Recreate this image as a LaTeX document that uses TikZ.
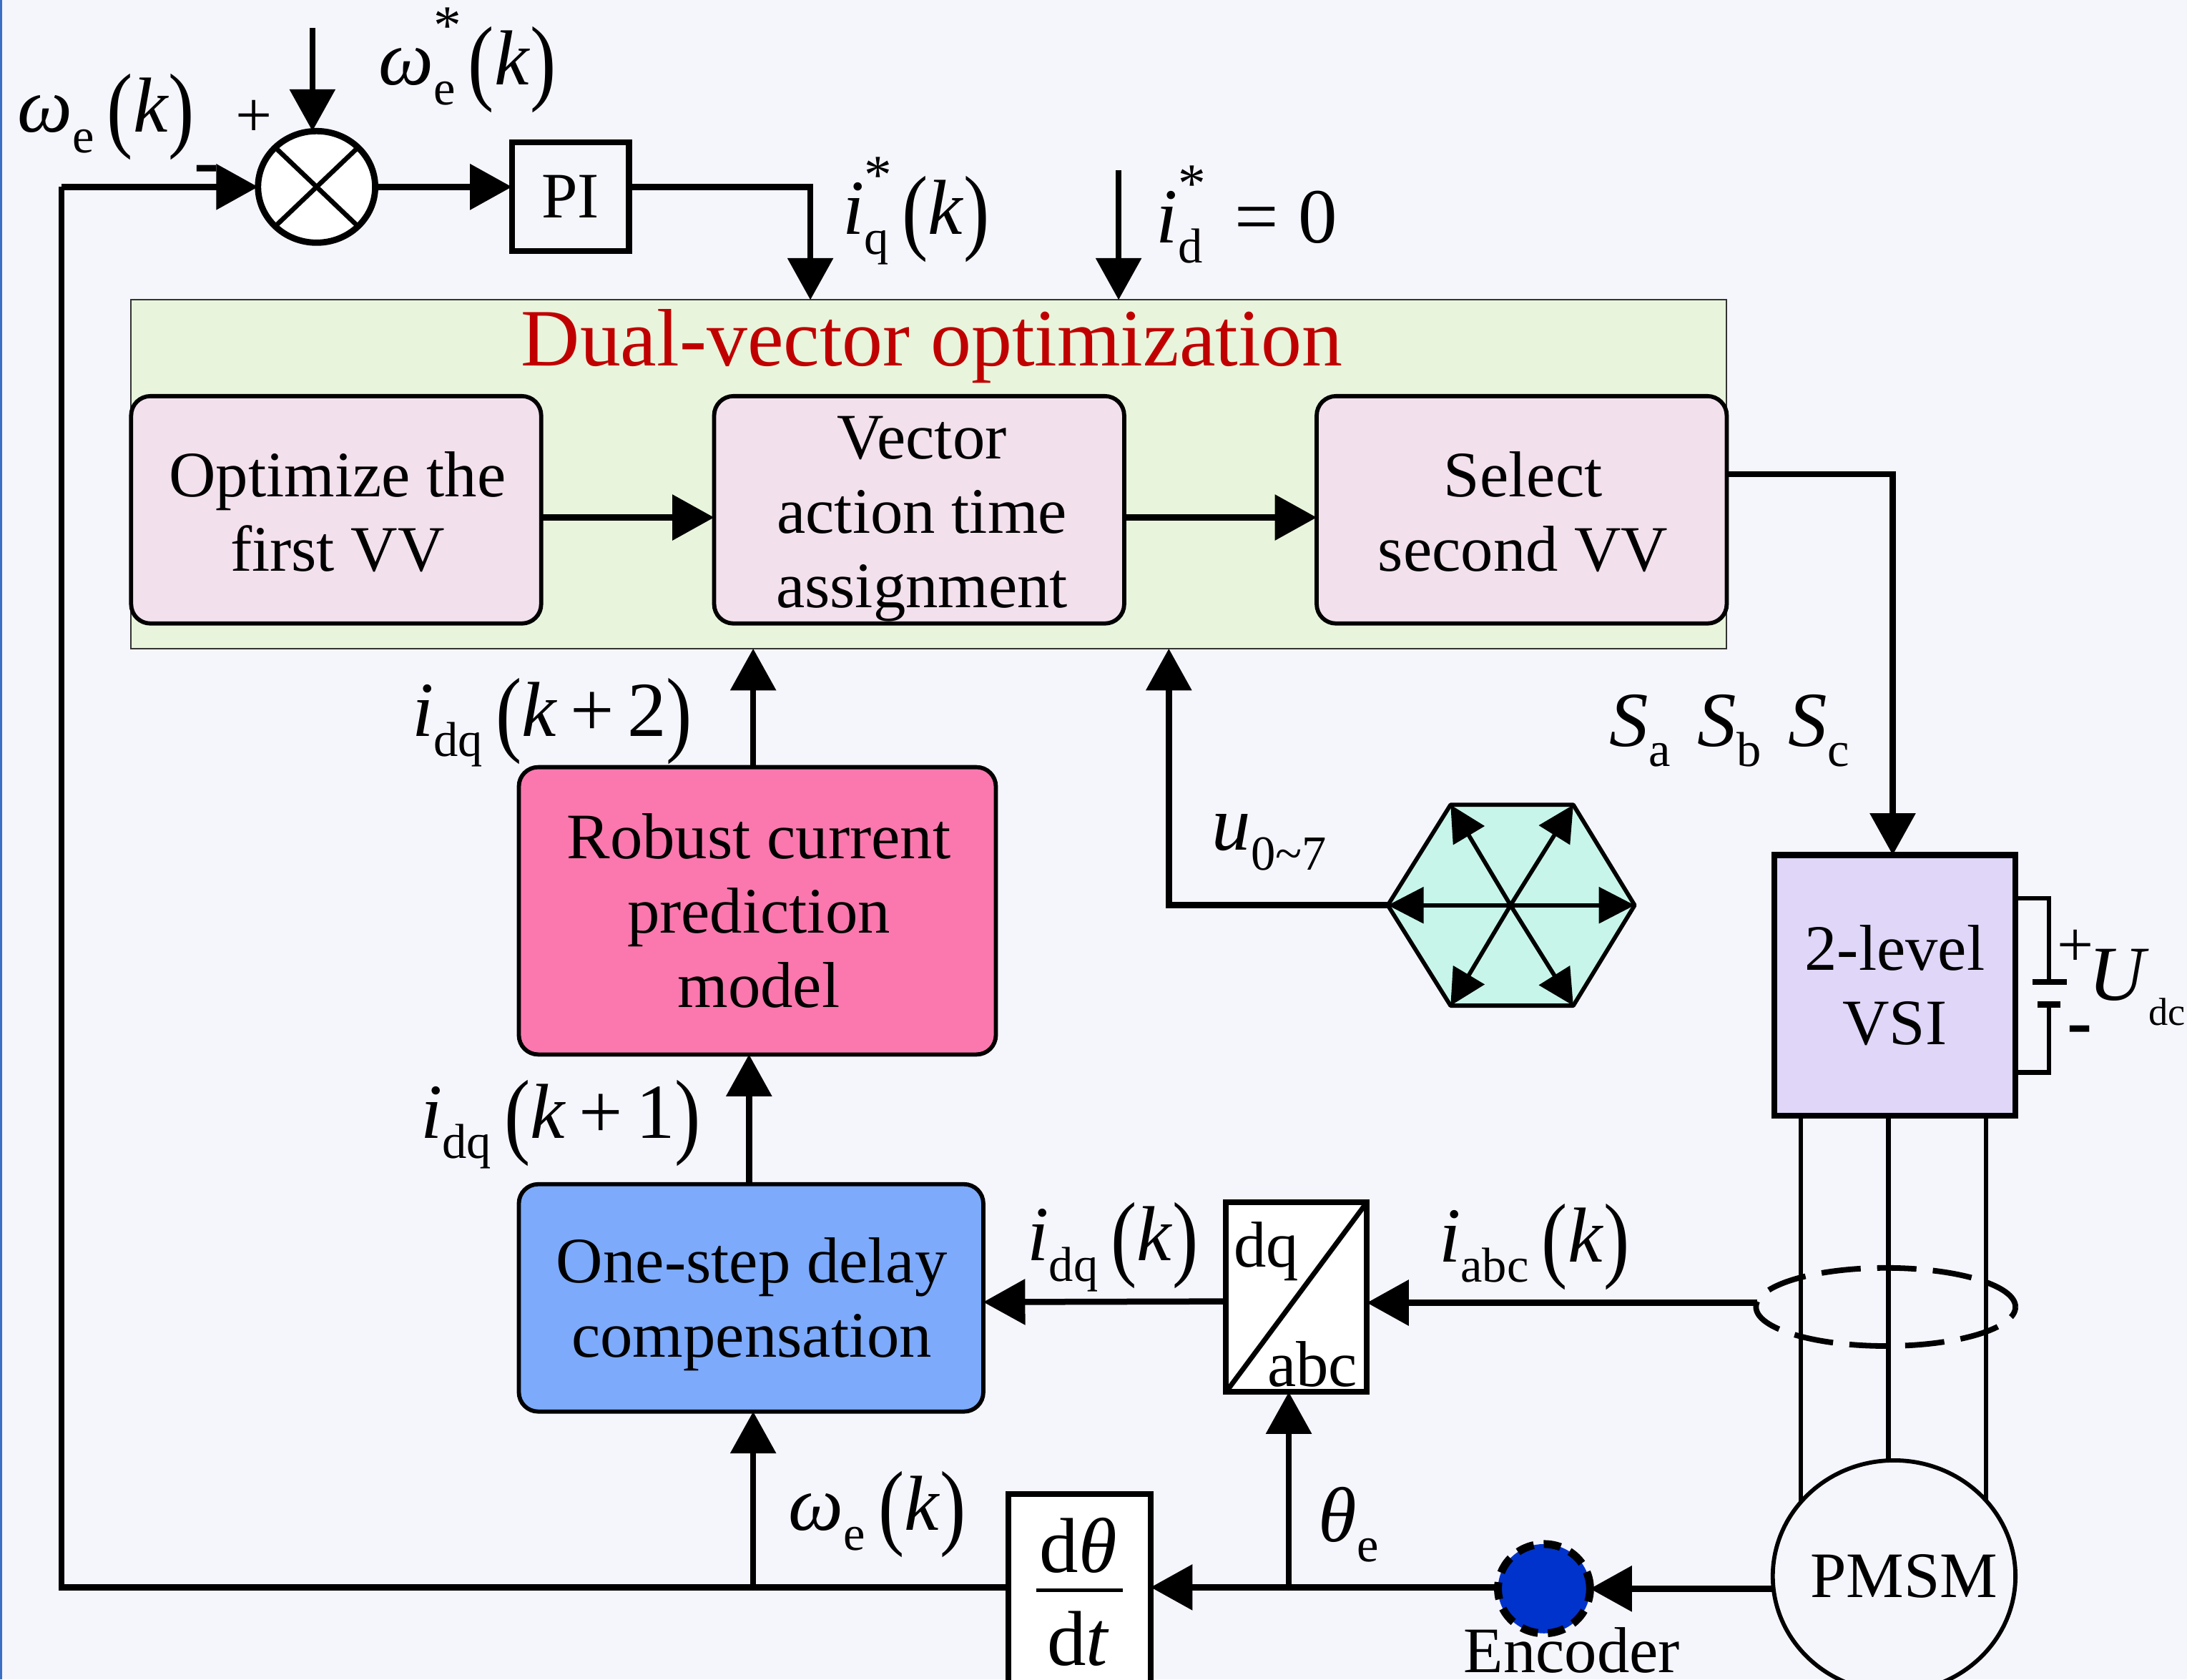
\documentclass[tikz,border=0pt]{standalone}
\usepackage{fontspec}
\usepackage{graphicx}
\setmainfont{Liberation Serif}
\usetikzlibrary{arrows.meta,shapes.geometric,calc}
\newlength\uu
\setlength\uu{0.0195cm}
\definecolor{bgc}{HTML}{F5F5FC}
\definecolor{greenc}{HTML}{E8F5DC}
\definecolor{pinkc}{HTML}{F2E0EC}
\definecolor{hotc}{HTML}{FA78AE}
\definecolor{bluec}{HTML}{7DAAFA}
\definecolor{vsic}{HTML}{E0D6F8}
\definecolor{hexc}{HTML}{C8F5EA}
\definecolor{encc}{HTML}{0033CC}
\definecolor{redc}{HTML}{C00000}
\definecolor{edgec}{HTML}{3A6FC4}
\newcommand\subt[1]{\raisebox{-0.26em}{\fontsize{19.5}{19.5}\selectfont\upshape #1}}
\newcommand\subst[1]{\rlap{\smash{\raisebox{0.52em}{\fontsize{22}{22}\selectfont\upshape *}}}\subt{#1}}
\newcommand\lpar{\,\raisebox{-0.1em}{\scalebox{1}[1.22]{(}}}
\newcommand\rpar{\raisebox{-0.1em}{\scalebox{1}[1.22]{)}}}
\newcommand\kk{\textit{k}}
\tikzset{
  x=0.0195cm, y=-0.0195cm,
  every node/.style={outer sep=0pt, inner sep=0pt, font=\fontsize{25.8}{29.5}\selectfont, text=black, align=center},
  lab/.style={font=\fontsize{31}{31}\selectfont},
  wire/.style={line width=0.085cm, black},
  thinwire/.style={line width=0.066cm, black},
  arr/.style={wire, -{Triangle[length=0.585cm,width=0.624cm]}},
  smallarr/.style={line width=0.058cm, black, -{Triangle[length=0.5cm,width=0.5cm]}},
  sqbox/.style={draw=black, line width=0.082cm, rectangle},
  rbox/.style={draw=black, line width=0.058cm, rectangle, rounded corners=0.27cm},
}
\begin{document}
\begin{tikzpicture}
\useasboundingbox (0,0) rectangle (1568,1204);
\clip (0,0) rectangle (1568,1204);
\fill[bgc] (0,0) rectangle (1568,1204);
\fill[edgec] (0,0) rectangle (1.5,1204);

% blocks
\node[rectangle, draw=black!80, line width=0.02cm, fill=greenc, minimum width=1144*\uu, minimum height=250*\uu] (opt) at (666,340) {};
\node[rbox, fill=pinkc, minimum width=294*\uu, minimum height=163*\uu] (first) at (241,365.5) {};
\node[rbox, fill=pinkc, minimum width=294*\uu, minimum height=163*\uu] (time) at (659,365.5) {};
\node[rbox, fill=pinkc, minimum width=294*\uu, minimum height=163*\uu] (second) at (1091,365.5) {};
\node[rbox, fill=hotc, minimum width=342*\uu, minimum height=206*\uu] (robust) at (543,653) {};
\node[rbox, fill=bluec, minimum width=333*\uu, minimum height=163*\uu] (delay) at (538.5,930.5) {};
\node (firstt) at (242,367) {Optimize the\\first VV};
\node (timet) at (661,372) {Vector\\action time\\assignment};
\node (secondt) at (1092,367) {Select\\second VV};
\node (robustt) at (544,653) {Robust current\\prediction\\model};
\node (delayt) at (539,935) {One-step delay\\compensation};
\node[ellipse, draw=black, line width=0.088cm, fill=white, minimum width=84*\uu, minimum height=80*\uu] (sum) at (227,134) {};
\node[sqbox, minimum width=84*\uu, minimum height=78*\uu] (pi) at (409,141) {PI};
\node[sqbox, fill=white, minimum width=101*\uu, minimum height=136*\uu] (park) at (929.5,930) {};
\node[sqbox, fill=white, minimum width=102*\uu, minimum height=150*\uu] (deriv) at (774,1146) {};
\node[sqbox, fill=vsic, minimum width=173*\uu, minimum height=187*\uu] (vsi) at (1358.5,706.5) {2-level\\VSI};
\node[ellipse, dash pattern=on 0.24cm off 0.14cm, draw=black, line width=0.11cm, fill=encc, minimum width=66*\uu, minimum height=64*\uu] (enc) at (1107,1139) {};

% free ends and tees
\coordinate (wref) at (224,20);
\coordinate (idref) at (802,122);
\coordinate (junA) at (540,1138);
\coordinate (junB) at (924,1138);
\coordinate (fbc) at (44,1138);
\coordinate (hc) at (1083,649);
\coordinate (h1) at (995,649);
\coordinate (h2) at (1040,577);
\coordinate (h3) at (1128,577);
\coordinate (h4) at (1172,649);
\coordinate (h5) at (1128,721);
\coordinate (h6) at (1040,721);
\coordinate (tapL) at (1260,934);
\coordinate (capP) at (1469,703);
\coordinate (capN) at (1469,720);
\coordinate (ph1a) at (1291,800);
\coordinate (ph2a) at (1354,800);
\coordinate (ph3a) at (1424,800);
\coordinate (ph1b) at (1291,1085);
\coordinate (ph2b) at (1354,1048);
\coordinate (ph3b) at (1424,1085);

% hexagon
\draw[fill=hexc, draw=black, line width=0.058cm, line join=round] (h1)--(h2)--(h3)--(h4)--(h5)--(h6)--cycle;
\foreach \v in {h1,h2,h3,h4,h5,h6} \draw[smallarr] (hc) -- (\v);

% three-phase lines
\draw[thinwire] (ph1a) -- (ph1b);
\draw[thinwire] (ph2a) -- (ph2b);
\draw[thinwire] (ph3a) -- (ph3b);
\node[ellipse, draw=black, line width=0.058cm, fill=bgc, minimum width=174*\uu, minimum height=166*\uu] (pmsm) at (1358,1130) {};
\node (pmsmt) at (1365,1130) {PMSM};
% current sensor
\node[ellipse, draw=black, line width=0.078cm, dash pattern=on 0.55cm off 0.23cm, minimum width=186*\uu, minimum height=56*\uu] (ct) at (1352,937) {};

% connectors
\draw[arr] (wref) -- (sum.north -| wref);
\draw[wire] (deriv.west |- fbc) -- (fbc) -- (fbc |- sum.west);
\draw[arr] (fbc |- sum.west) -- (sum.west);
\draw[arr] (sum.east) -- (pi.west |- sum.east);
\draw[arr] ($(pi.east)+(0,-7)$) -| ($(opt.north west)+(487,0)$);
\draw[arr] (idref) -- (idref |- opt.north);
\draw[arr] ($(first.east)+(0,5.5)$) -- ($(time.west)+(0,5.5)$);
\draw[arr] ($(time.east)+(0,5.5)$) -- ($(second.west)+(0,5.5)$);
\draw[arr] ($(second.north east)+(0,56)$) -| ($(vsi.north)+(-1.5,0)$);
\draw[arr] ($(robust.north)+(-3,0)$) -- ($(opt.south west)+(446,0)$);
\draw[arr] (h1) -| ($(opt.south west)+(744,0)$);
\draw[arr] ($(delay.north)+(-1.5,0)$) -- ($(robust.south)+(-6,0)$);
\draw[arr] ($(park.west)+(0,3)$) -- ($(delay.east)+(0,3)$);
\draw[arr] (tapL) -- ($(park.east)+(0,4)$);
\draw[arr] (junA) -- (junA |- delay.south);
\draw[arr] (junB) -- (junB |- park.south);
\draw[arr] (enc.west |- junB) -- (deriv.east |- junB);
\draw[arr] (pmsm.west |- enc.east) -- (enc.east);
% DC link
\draw[thinwire] ($(vsi.north east)+(0,31)$) -- ($(capP)+(0,-59)$) -- (capP);
\draw[thinwire] ($(vsi.north east)+(0,156)$) -- ($(capN)+(0,49)$) -- (capN);
\draw[line width=0.088cm, black] ($(capP)+(-12,1)$) -- ($(capP)+(13,1)$);
\draw[line width=0.088cm, black] ($(capN)+(-8,0)$) -- ($(capN)+(8,0)$);

% summing junction cross
\draw[line width=0.066cm, black] (sum.north west) -- (sum.south east);
\draw[line width=0.066cm, black] (sum.north east) -- (sum.south west);
% park diagonal
\draw[line width=0.07cm, black] (park.south west) -- (park.north east);
\node (dqt) at (908,897) {dq};
\node (abct) at (941,978) {abc};
% derivative
\node[lab] (dthe) at (773,1108) {d\textit{θ}};
\node[lab] (dtt) at (773,1175) {d\textit{t}};
\coordinate (fr1) at (743,1140);
\coordinate (fr2) at (805,1140);
\draw[line width=0.05cm, black] (fr1) -- (fr2);

% labels
\node[font=\fontsize{32.4}{32.4}\selectfont, text=redc] (title) at (668,248) {Dual-vector optimization};
\node[lab] (l1) at (76,84) {\textit{ω}\subt{e}\lpar\kk\rpar};
\node[lab] (l2) at (335,50) {\textit{ω}\subst{e}\lpar\kk\rpar};
\node[lab] (l3) at (657,158) {\textit{i}\subst{q}\lpar\kk\rpar};
\node[lab] (l4) at (894,163) {\textit{i}\subst{d}\, = 0};
\node[lab] (l5) at (1240,524) {\textit{S}\subt{a}\hspace{0.35em}\textit{S}\subt{b}\hspace{0.35em}\textit{S}\subt{c}};
\node[lab] (l6) at (396,518) {\textit{i}\subt{dq}\lpar\kk\,+\,2\rpar};
\node[lab] (l7) at (910,604) {\textit{u}\subt{0\textasciitilde 7}};
\node[lab] (l8) at (402,806) {\textit{i}\subt{dq}\lpar\kk\,+\,1\rpar};
\node[lab] (l9) at (798,894) {\textit{i}\subt{dq}\lpar\kk\rpar};
\node[lab] (l10) at (1100,894) {\textit{i}\subt{abc}\lpar\kk\rpar};
\node[lab] (l11) at (629,1086) {\textit{ω}\subt{e}\lpar\kk\rpar};
\node[lab] (l12) at (967,1093) {\textit{θ}\subt{e}};
\node (l13) at (1127,1183) {Encoder};
\node[anchor=east, lab] (l14) at (1567,708) {\textit{U}{\raisebox{-0.32em}{\fontsize{15.5}{15.5}\selectfont\upshape dc}}};
\node (plus1) at (182,85) {+};
\node[font=\fontsize{30}{30}\selectfont\bfseries] (minus1) at (148,126) {-};
\node (plus2) at (1488,680) {+};
\node[font=\fontsize{30}{30}\selectfont\bfseries] (minus2) at (1491,743) {-};
\end{tikzpicture}
\end{document}
